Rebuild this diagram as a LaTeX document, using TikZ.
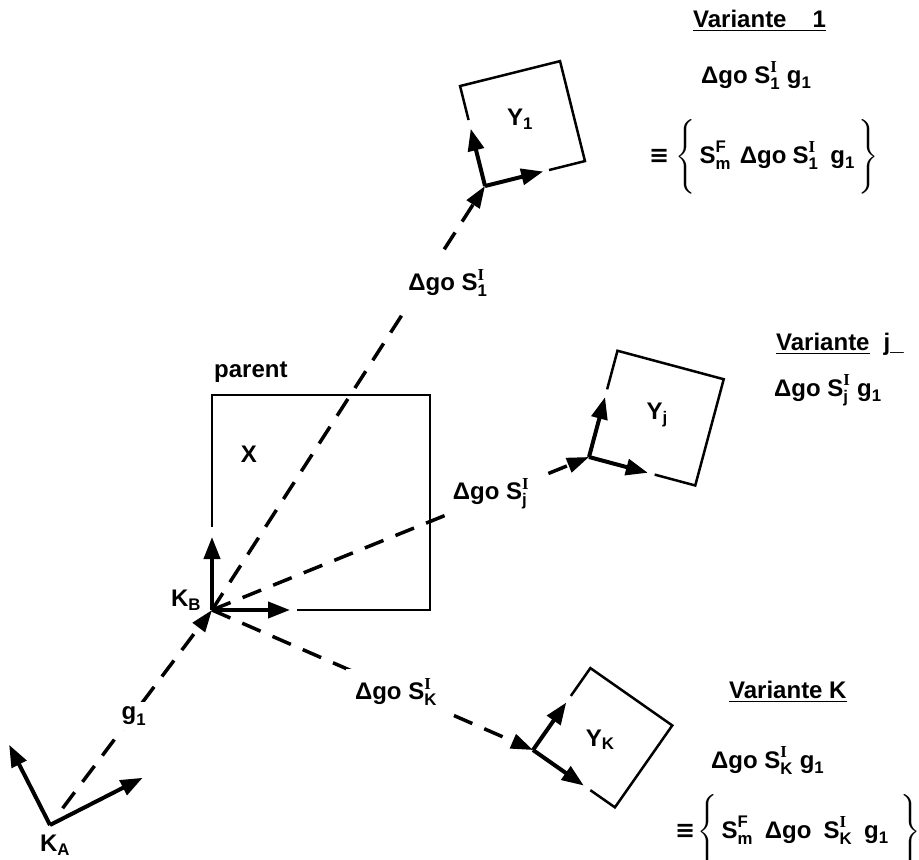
\documentclass[tikz,border=0pt]{standalone}
\usepackage{amsmath}
\usepackage{fontspec}
\setmainfont{Liberation Sans}
\newfontfamily\serI{Liberation Serif}
\newfontfamily\sym{DejaVu Sans}
\usetikzlibrary{arrows.meta,positioning}
\newcommand{\Sx}[2]{\text{S}^{\text{#1}}_{\text{#2}}}
\newcommand{\SI}[1]{\Sx{\serI I}{#1}}
\newcommand{\gi}{\text{g}_{\text{1}}}
\newcommand{\eqv}{{\sym ≡}}
\tikzset{txt/.style={font=\fontsize{24}{29}\selectfont\bfseries,inner sep=1pt}}

\begin{document}
\begin{tikzpicture}[x=1pt,y=-1pt]
\tikzstyle{axe}=[line width=4pt,-{Triangle[length=22pt,width=16pt]}]
\tikzstyle{cadre}=[line width=2.5pt]
\tikzstyle{trait}=[line width=3.5pt,dash pattern=on 20pt off 13pt,-{Triangle[length=22pt,width=15pt]}]
\tikzstyle{coupe}=[txt,fill=white,inner sep=5pt]

\useasboundingbox (0,0) rectangle (919,860);

% repere K_A
\begin{scope}[shift={(50,825)},rotate=27,y=1pt]
  \coordinate (KA) at (0,0);
  \coordinate (KAx) at (104,0);
  \coordinate (KAy) at (0,90);
  \draw[axe] (KA) -- (KAx);
  \draw[axe] (KA) -- (KAy);
\end{scope}
\node[txt] (lKA) at (55,845) {K$_\text{A}$};

% parent X, repere K_B
\coordinate (KB) at (212,610);
\coordinate (KBx) at (290,610);
\coordinate (KBy) at (212,537);
\draw[cadre] (212,527) -- (212,395) -- (430,395) -- (430,610) -- (297,610);
\draw[axe] (KB) -- (KBx);
\draw[axe] (KB) -- (KBy);
\node[txt] (lKB) at (186,600) {K$_\text{B}$};
\node[txt,anchor=base west] (par) at (213,377) {parent};
\node[txt] (X) at (249,454) {X};

% variante 1
\begin{scope}[shift={(485,186)},rotate=14,y=1pt]
  \coordinate (O1) at (0,0);
  \coordinate (O1x) at (60,0);
  \coordinate (O1y) at (0,59);
  \draw[cadre] (0,68) -- (0,103) -- (103,103) -- (103,0) -- (66,0);
  \draw[axe] (O1) -- (O1x);
  \draw[axe] (O1) -- (O1y);
  \node[txt] (Y1) at (50,56) {Y$_\text{1}$};
\end{scope}

% variante j
\begin{scope}[shift={(589,457)},rotate=-15,y=1pt]
  \coordinate (Oj) at (0,0);
  \coordinate (Ojx) at (61,0);
  \coordinate (Ojy) at (0,62);
  \draw[cadre] (0,70) -- (0,110) -- (110,110) -- (110,0) -- (68,0);
  \draw[axe] (Oj) -- (Ojx);
  \draw[axe] (Oj) -- (Ojy);
  \node[txt] (Yj) at (55,58) {Y$_\text{j}$};
\end{scope}

% variante K
\begin{scope}[shift={(533,750)},rotate=-35,y=1pt]
  \coordinate (OK) at (0,0);
  \coordinate (OKx) at (62,0);
  \coordinate (OKy) at (0,58);
  \draw[cadre] (0,66) -- (0,100) -- (100,100) -- (100,0) -- (70,0);
  \draw[axe] (OK) -- (OKx);
  \draw[axe] (OK) -- (OKy);
  \node[txt] (YK) at (49,47) {Y$_\text{K}$};
\end{scope}

% deplacements
\draw[trait,shorten <=21pt] (KA) -- (KB);
\draw[trait] (KB) -- (O1);
\draw[trait] (KB) -- (Oj);
\draw[trait] (KB) -- (OK);

\node[coupe] (g) at (134,716) {$\gi$};
\node[coupe,inner ysep=12pt] (d1) at (448,283) {Δgo $\SI{1}$};
\node[coupe,inner xsep=8pt] (dj) at (491,494) {Δgo $\SI{j}$};
\node[coupe,inner sep=9pt] (dK) at (396,692) {Δgo $\SI{K}$};

% textes
\node[txt,anchor=base west] (V1) at (692,27) {\underline{Variante\hspace{26pt}1}};
\node[txt,anchor=base west] (F1) at (700,83) {Δgo $\SI{1}$ $\gi$};
\node[txt,anchor=base west] (E1) at (648,163) {\eqv\hspace{6pt}$\Biggl\{\,\Sx{F}{m}\hspace{9pt}\text{Δgo}\hspace{6pt}\SI{1}\hspace{12pt}\gi\hspace{4pt}\Biggr\}$};

\node[txt,anchor=base west] (Vj) at (775,350) {\underline{Variante}\hspace{14pt}j\_};
\node[txt,anchor=base west] (Fj) at (773,396) {Δgo $\SI{j}$ $\gi$};

\node[txt,anchor=base west] (VK) at (728,698) {\underline{Variante K}};
\node[txt,anchor=base west] (FK) at (710,768) {Δgo $\SI{K}$ $\gi$};
\node[txt,anchor=base west] (EK) at (674,838) {\eqv\hspace{2pt}$\Biggl\{\,\Sx{F}{m}\hspace{12pt}\text{Δgo}\hspace{12pt}\SI{K}\hspace{12pt}\gi\hspace{12pt}\Biggr\}$};
\end{tikzpicture}
\end{document}
